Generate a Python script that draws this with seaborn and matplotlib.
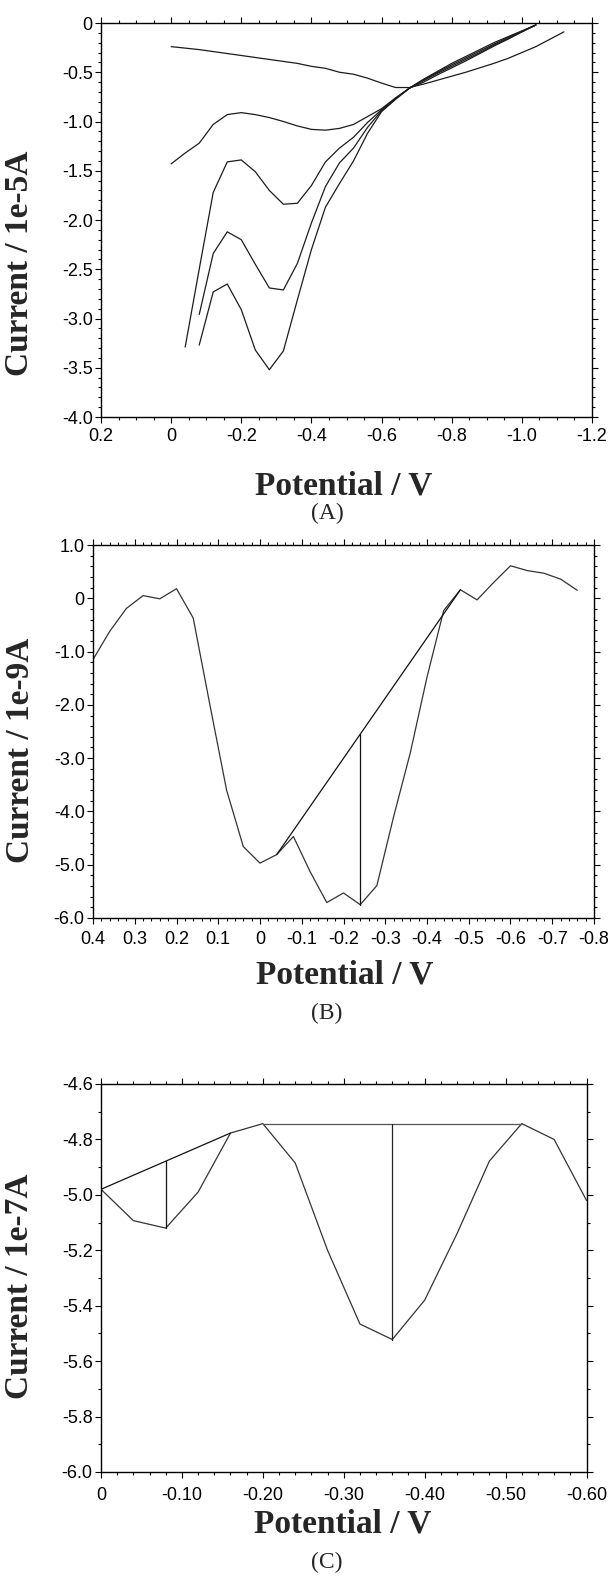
import matplotlib
matplotlib.use("Agg")
import matplotlib.pyplot as plt
import seaborn as sns
import numpy as np
import pandas as pd
from matplotlib.ticker import MultipleLocator, FixedLocator

# ---------------- data ----------------
# Panel A : five sweeps, potential (V) / current (1e-5 A)
A1_v = [0, -0.04, -0.08, -0.12, -0.16, -0.20, -0.24, -0.28, -0.32, -0.36, -0.40, -0.44, -0.48, -0.52,
        -0.56, -0.60, -0.64, -0.68, -0.72, -0.76, -0.80, -0.84, -0.88, -0.92, -0.96, -1.00, -1.04, -1.08, -1.12]
A1_i = [-0.24, -0.255, -0.27, -0.29, -0.31, -0.33, -0.35, -0.37, -0.39, -0.41, -0.44, -0.46, -0.50, -0.52,
        -0.56, -0.61, -0.655, -0.655, -0.62, -0.58, -0.54, -0.50, -0.455, -0.41, -0.36, -0.30, -0.24, -0.165, -0.09]

A2_v = [0, -0.04, -0.08, -0.12, -0.16, -0.20, -0.24, -0.28, -0.32, -0.36, -0.40, -0.44, -0.48, -0.52,
        -0.56, -0.60, -0.64, -0.68, -0.72, -0.76, -0.80, -0.84, -0.88, -0.92, -0.96, -1.00, -1.04]
A2_i = [-1.43, -1.32, -1.22, -1.03, -0.93, -0.91, -0.93, -0.96, -1.00, -1.045, -1.08, -1.088, -1.07, -1.03,
        -0.95, -0.87, -0.76, -0.66, -0.57, -0.49, -0.41, -0.34, -0.27, -0.20, -0.14, -0.08, -0.02]

A3_v = [-0.04, -0.08, -0.12, -0.16, -0.20, -0.24, -0.28, -0.32, -0.36, -0.40, -0.44, -0.48, -0.52,
        -0.56, -0.60, -0.64, -0.68, -0.72, -0.76, -0.80, -0.84, -0.88, -0.92, -0.96, -1.00, -1.04]
A3_i = [-3.29, -2.50, -1.72, -1.41, -1.39, -1.51, -1.70, -1.84, -1.83, -1.65, -1.41, -1.27, -1.16,
        -1.01, -0.88, -0.765, -0.66, -0.575, -0.50, -0.425, -0.355, -0.285, -0.215, -0.15, -0.085, -0.02]

A4_v = [-0.08, -0.12, -0.16, -0.20, -0.24, -0.28, -0.32, -0.36, -0.40, -0.44, -0.48, -0.52,
        -0.56, -0.60, -0.64, -0.68, -0.72, -0.76, -0.80, -0.84, -0.88, -0.92, -0.96, -1.00, -1.04]
A4_i = [-2.96, -2.34, -2.12, -2.20, -2.45, -2.69, -2.71, -2.44, -2.03, -1.66, -1.42, -1.27,
        -1.06, -0.89, -0.77, -0.66, -0.585, -0.51, -0.44, -0.37, -0.30, -0.225, -0.16, -0.09, -0.02]

A5_v = [-0.08, -0.12, -0.16, -0.20, -0.24, -0.28, -0.32, -0.36, -0.40, -0.44, -0.48, -0.52,
        -0.56, -0.60, -0.64, -0.68, -0.72, -0.76, -0.80, -0.84, -0.88, -0.92, -0.96, -1.00, -1.04]
A5_i = [-3.27, -2.73, -2.65, -2.91, -3.32, -3.52, -3.33, -2.81, -2.30, -1.87, -1.63, -1.40,
        -1.12, -0.90, -0.775, -0.66, -0.60, -0.525, -0.455, -0.385, -0.31, -0.235, -0.165, -0.09, -0.02]

# Panel B : potential (V) / current (1e-9 A)
B_v = [0.40, 0.36, 0.32, 0.28, 0.24, 0.20, 0.16, 0.12, 0.08, 0.04, 0.00, -0.04, -0.08, -0.12, -0.16,
       -0.20, -0.24, -0.28, -0.32, -0.36, -0.40, -0.44, -0.48, -0.52, -0.56, -0.60, -0.64, -0.68, -0.72, -0.76]
B_i = [-1.15, -0.62, -0.19, 0.05, -0.01, 0.18, -0.37, -2.00, -3.60, -4.66, -4.97, -4.81, -4.47, -5.13, -5.71,
       -5.53, -5.75, -5.39, -4.10, -2.90, -1.48, -0.23, 0.16, -0.03, 0.30, 0.61, 0.52, 0.47, 0.36, 0.15]
B_base_v = [-0.04, -0.48]
B_base_i = [-4.81, 0.16]
B_peak_v = [-0.24, -0.24]
B_peak_i = [-5.75, -2.55]

# Panel C : potential (V) / current (1e-7 A)
C_v = [0.00, -0.04, -0.08, -0.12, -0.16, -0.20, -0.24, -0.28, -0.32, -0.36, -0.40, -0.44, -0.48, -0.52, -0.56, -0.60]
C_i = [-4.98, -5.093, -5.12, -4.99, -4.777, -4.743, -4.885, -5.20, -5.466, -5.522, -5.38, -5.14, -4.878, -4.743, -4.80, -5.02]
C_base1_v = [0.00, -0.16]
C_base1_i = [-4.98, -4.777]
C_base2_v = [-0.20, -0.52]
C_base2_i = [-4.743, -4.743]
C_peak1_v = [-0.08, -0.08]
C_peak1_i = [-5.12, -4.879]
C_peak2_v = [-0.36, -0.36]
C_peak2_i = [-5.522, -4.745]

# tick labels
A_xt = [0.2, 0.0, -0.2, -0.4, -0.6, -0.8, -1.0, -1.2]
A_xl = ["0.2", "0", "-0.2", "-0.4", "-0.6", "-0.8", "-1.0", "-1.2"]
A_yt = [0, -0.5, -1.0, -1.5, -2.0, -2.5, -3.0, -3.5, -4.0]
A_yl = ["0", "-0.5", "-1.0", "-1.5", "-2.0", "-2.5", "-3.0", "-3.5", "-4.0"]
B_xt = [0.4, 0.3, 0.2, 0.1, 0.0, -0.1, -0.2, -0.3, -0.4, -0.5, -0.6, -0.7, -0.8]
B_xl = ["0.4", "0.3", "0.2", "0.1", "0", "-0.1", "-0.2", "-0.3", "-0.4", "-0.5", "-0.6", "-0.7", "-0.8"]
B_yt = [1.0, 0, -1.0, -2.0, -3.0, -4.0, -5.0, -6.0]
B_yl = ["1.0", "0", "-1.0", "-2.0", "-3.0", "-4.0", "-5.0", "-6.0"]
C_xt = [0.0, -0.1, -0.2, -0.3, -0.4, -0.5, -0.6]
C_xl = ["0", "-0.10", "-0.20", "-0.30", "-0.40", "-0.50", "-0.60"]
C_yt = [-4.6, -4.8, -5.0, -5.2, -5.4, -5.6, -5.8, -6.0]
C_yl = ["-4.6", "-4.8", "-5.0", "-5.2", "-5.4", "-5.6", "-5.8", "-6.0"]

# ---------------- style ----------------
sns.set_theme(style="ticks")
plt.rcParams["font.family"] = ["Liberation Sans", "DejaVu Sans"]
plt.rcParams["axes.edgecolor"] = "black"
plt.rcParams["axes.linewidth"] = 1.0

W, H = 608, 1580
fig = plt.figure(figsize=(W / 100, H / 100), dpi=100)
fig.patch.set_facecolor("white")


def box(l, r, t, b):
    return [l / W, 1 - b / H, (r - l) / W, (b - t) / H]


axA = fig.add_axes(box(101, 592, 23, 417))
axB = fig.add_axes(box(93, 594, 545, 918))
axC = fig.add_axes(box(101, 586.5, 1084, 1472))

LBL = dict(fontfamily=["Liberation Serif", "DejaVu Serif"], fontweight="bold", fontsize=24)
CURVE = "#1c1c1c"


def line(ax, xs, ys, color=CURVE, lw=0.9):
    df = pd.DataFrame({"V": xs, "I": ys})
    sns.lineplot(data=df, x="V", y="I", ax=ax, color=color, lw=lw,
                 sort=False, estimator=None, legend=False)


def style(ax, xlim, ylim, xt, xl, yt, yl, xminor, yminor, ylabel, xpad, ylab_xy, xlab_xy):
    ax.set_xlim(*xlim)
    ax.set_ylim(*ylim)
    ax.xaxis.set_major_locator(FixedLocator(xt))
    ax.set_xticklabels(xl)
    ax.yaxis.set_major_locator(FixedLocator(yt))
    ax.set_yticklabels(yl)
    ax.xaxis.set_minor_locator(MultipleLocator(xminor))
    ax.yaxis.set_minor_locator(MultipleLocator(yminor))
    ax.tick_params(which="both", direction="out", top=True, right=True,
                   labeltop=False, labelright=False, color="black", width=0.8)
    ax.tick_params(which="major", length=4.5, labelsize=13, labelcolor="black")
    ax.tick_params(which="minor", length=2.5)
    ax.tick_params(axis="x", which="major", pad=xpad)
    ax.tick_params(axis="y", which="major", pad=1.5)
    for s in ax.spines.values():
        s.set_visible(True)
        s.set_color("black")
        s.set_linewidth(1.0)
    ax.set_facecolor("white")
    ax.grid(False)
    ax.set_xlabel("Potential / V", **LBL)
    ax.set_ylabel(ylabel, **LBL)
    ax.xaxis.label.set_va("center")
    ax.yaxis.label.set_va("center")
    ax.xaxis.set_label_coords(*xlab_xy)
    ax.yaxis.set_label_coords(*ylab_xy)


# Panel A
for xs, ys in [(A1_v, A1_i), (A2_v, A2_i), (A3_v, A3_i), (A4_v, A4_i), (A5_v, A5_i)]:
    line(axA, xs, ys)
style(axA, (0.2, -1.2), (-4.0, 0.0), A_xt, A_xl, A_yt, A_yl, 0.05, 0.1,
      "Current / 1e-5A", 3.5, (-0.165, 0.39), (0.495, -0.175))

# Panel B
line(axB, B_v, B_i, color="#333333")
line(axB, B_base_v, B_base_i, color="#111111")
line(axB, B_peak_v, B_peak_i, color="#111111")
style(axB, (0.4, -0.8), (-6.0, 1.0), B_xt, B_xl, B_yt, B_yl, 0.02, 0.2,
      "Current / 1e-9A", 5, (-0.145, 0.45), (0.502, -0.152))

# Panel C
line(axC, C_v, C_i, color="#333333")
line(axC, C_base1_v, C_base1_i, color="#111111")
line(axC, C_base2_v, C_base2_i, color="#555555")
line(axC, C_peak1_v, C_peak1_i, color="#111111")
line(axC, C_peak2_v, C_peak2_i, color="#222222")
style(axC, (0.0, -0.6), (-6.0, -4.6), C_xt, C_xl, C_yt, C_yl, 0.02, 0.1,
      "Current / 1e-7A", 6, (-0.167, 0.479), (0.497, -0.135))

PAN = dict(fontfamily=["Liberation Serif", "DejaVu Serif"], fontsize=17, ha="center", va="center")
fig.text(327 / W, 1 - 513 / H, "(A)", **PAN)
fig.text(327 / W, 1 - 1013 / H, "(B)", **PAN)
fig.text(327 / W, 1 - 1562 / H, "(C)", **PAN)

fig.savefig("out.png", dpi=100, facecolor="white")
